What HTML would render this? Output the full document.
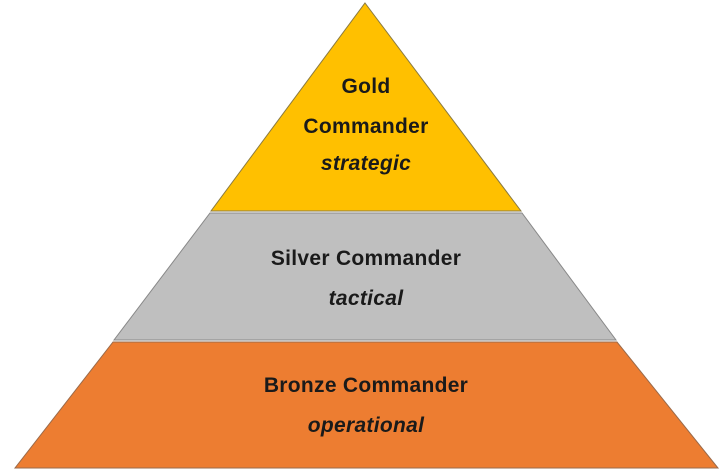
<!DOCTYPE html>
<html><head><style>html,body{margin:0;padding:0;background:#fff;}svg{display:block}</style></head>
<body>
<svg width="720" height="472" viewBox="0 0 720 472" xmlns="http://www.w3.org/2000/svg">
<polygon points="365,3 521,211 211,211" fill="#FFC000" stroke="#8a7a40" stroke-width="1"/>
<polygon points="210,213 522,213 616,340 114,340" fill="#BFBFBF" stroke="#888" stroke-width="1"/>
<polygon points="113,342 617,342 718,468 15,468" fill="#ED7D31" stroke="#9a6a4a" stroke-width="1"/>
<g font-family="'Liberation Sans', sans-serif" font-size="21" font-weight="bold" fill="#1a1a1a" text-anchor="middle" letter-spacing="0.3">
<text x="366" y="93">Gold</text>
<text x="366" y="133">Commander</text>
<text x="366" y="170" font-style="italic">strategic</text>
<text x="366" y="265">Silver Commander</text>
<text x="366" y="305" font-style="italic">tactical</text>
<text x="366" y="392">Bronze Commander</text>
<text x="366" y="432" font-style="italic">operational</text>
</g>
</svg>
</body></html>
